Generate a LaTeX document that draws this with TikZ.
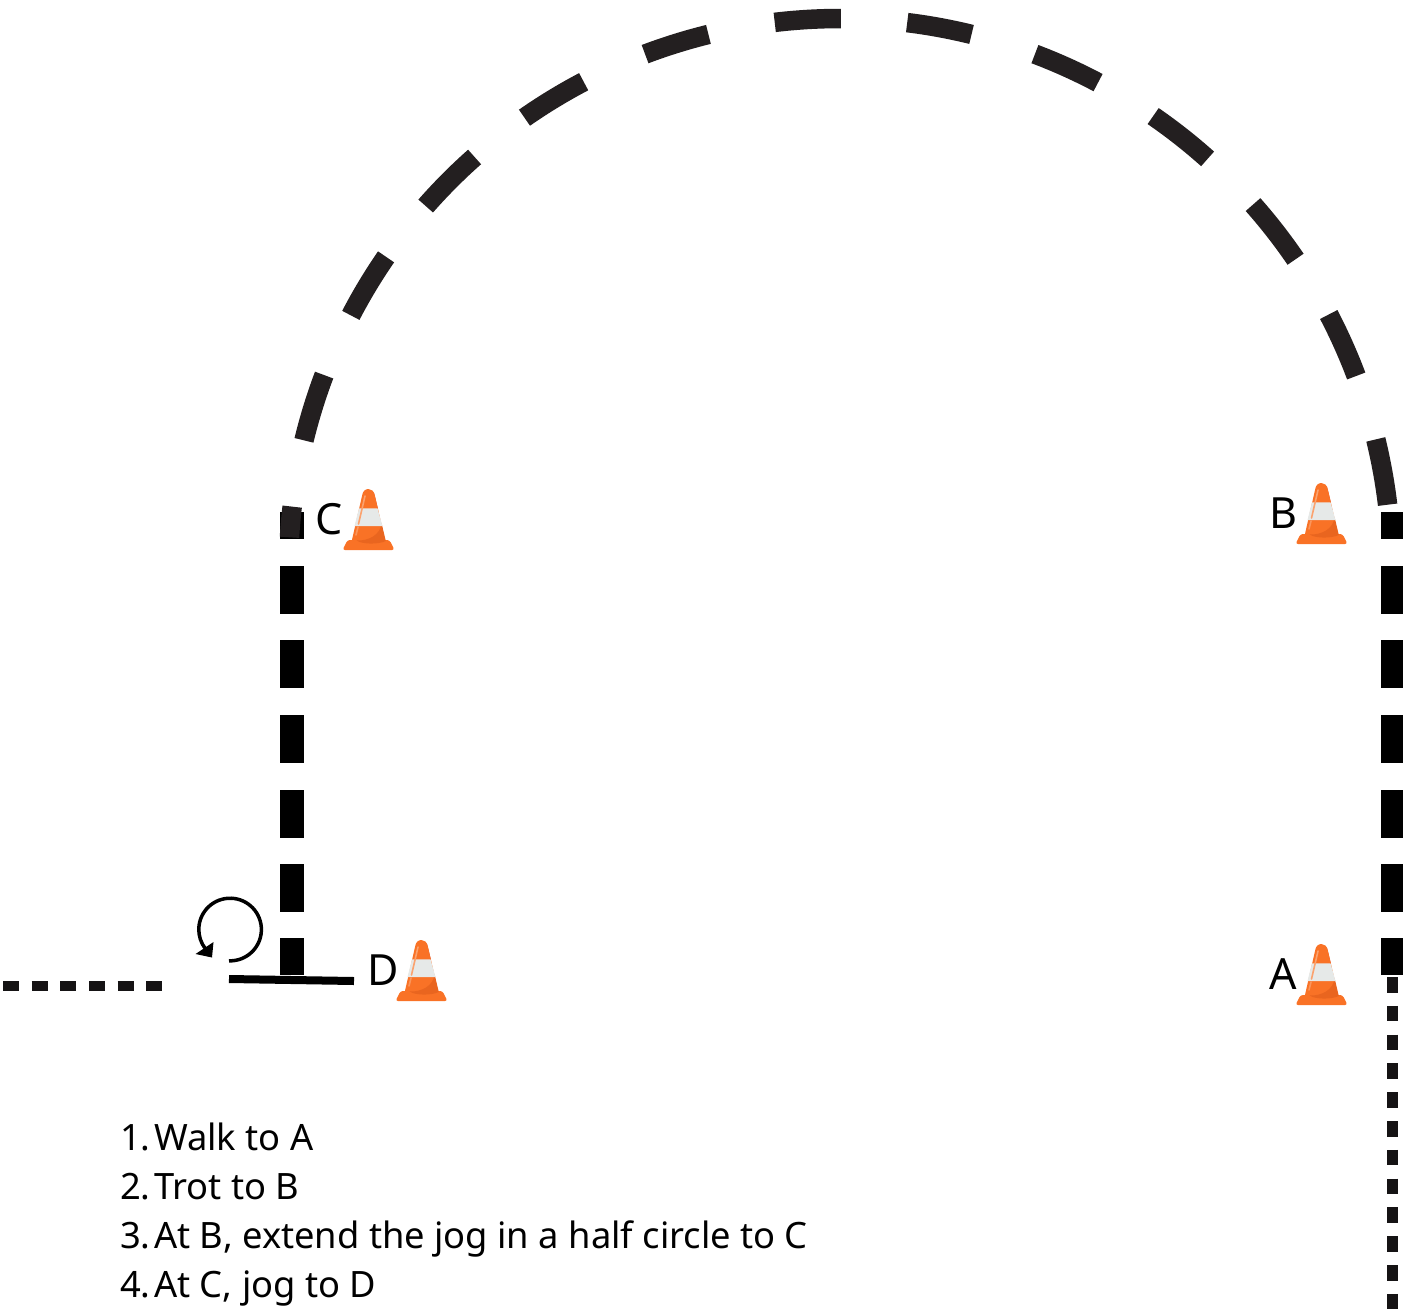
\documentclass[tikz,border=0pt]{standalone}
\usepackage{fontspec}
\setmainfont{Noto Sans}
\usetikzlibrary{calc}
\definecolor{ink}{HTML}{231F20}
\definecolor{inkdark}{HTML}{151314}
\definecolor{coneorange}{HTML}{F97226}
\definecolor{conedark}{HTML}{E9651F}
\definecolor{coneband}{HTML}{E6E9E8}
\definecolor{conered}{HTML}{D8412B}
\definecolor{conelight}{HTML}{FBA26E}
\tikzset{
  arcdash/.style={draw=ink,line width=19.5pt},
  bardash/.style={draw=black,line width=24pt},
  dotdash/.style={draw=inkdark,line width=11pt},
  dotdashh/.style={draw=inkdark,line width=10pt},
  conelabel/.style={font=\fontsize{43}{43}\selectfont,anchor=base west,inner sep=0pt,text=black},
  steptext/.style={font=\fontsize{36.3}{36.3}\selectfont,anchor=base west,inner sep=0pt,text=black},
  trafficcone/.pic={
    % base
    \fill[coneorange,rounded corners=2.5pt] (-21,-10) -- (21,-10) -- (26,0) -- (-26,0) -- cycle;
    % red sliver
    \fill[conered] (1,-60) -- (5.5,-57) -- (9.5,-41) -- (6,-41) -- cycle;
    % body
    \fill[coneorange] (-17,-8) -- (-6.5,-54) .. controls (-6,-59) and (-3,-61) .. (0,-61)
        .. controls (3,-61) and (5.5,-59) .. (6.5,-54) -- (17,-8) .. controls (10,-5) and (-10,-5) .. (-17,-8) -- cycle;
    % shade
    \fill[conedark] (17.3,-9) -- (13,-27) .. controls (12,-15) and (0,-9) .. (-12,-9.5)
        .. controls (-6,-5.5) and (10,-5.5) .. (17.3,-9) -- cycle;
    % band
    \fill[coneband] (-9.5,-41.7) -- (9,-41.7) -- (14,-24) -- (-14,-24) -- cycle;
    % highlight
    \draw[conelight,line width=1.6pt,line cap=round] (-3.5,-54) -- (-10,-26);
    \draw[conelight,line width=1.6pt,line cap=round,opacity=.75] (-10.5,-23) -- (-12.5,-15);
  }
}
\begin{document}
\begin{tikzpicture}[x=1pt,y=-1pt]
\useasboundingbox (0,0) rectangle (1403,1309);
\coordinate (arcC) at (840,570);
% vertical bars
\foreach \a/\b in {512/539,566/614,640/688,715/763,790/838,864/912,938/975}{
  \draw[bardash] (292,\a) -- (292,\b);
  \draw[bardash] (1393,\a) -- (1393,\b);
}
% half circle
\foreach \a/\b in {6.8/13.7,20.6/27.6,34.3/41.5,48.2/55.4,62.1/69.3,76.2/83.0,89.9/96.8,103.8/110.7,117.7/124.9,131.5/138.7,145.4/152.5,159.3/166.4,173.4/176.6}{
  \draw[arcdash] ($(arcC)+({551.5*cos(\a)},{-551.5*sin(\a)})$) arc[start angle=-\a,end angle=-\b,radius=551.5];
}
% dotted lines
\foreach \a in {977,1005.8,1034.6,1063.4,1092.2,1121,1149.8,1178.6,1207.4,1236.2,1265,1293.8}{
  \draw[dotdash] (1392.5,\a) -- (1392.5,{min(\a+15.5,1309)});
}
\foreach \a in {3,31.5,60,89,117.5,146}{
  \draw[dotdashh] (\a,986) -- ({\a+16},986);
}
% halt line and turn
\coordinate (haltL) at (229,979);
\coordinate (haltR) at (354,981);
\draw[draw=black,line width=8pt] (haltL) -- (haltR);
\coordinate (turnC) at (230,929.5);
\draw[black,line width=3.5pt] ($(turnC)+(-1,31.3)$) arc[start angle=92,end angle=-218,radius=31.3];
\fill[black] (213.5,942) -- (212,957.5) -- (195.5,954) -- cycle;
% cones
\pic at (1321.5,1005) {trafficcone};
\pic at (1321.5,544) {trafficcone};
\pic at (368.5,550) {trafficcone};
\pic at (421.5,1001) {trafficcone};
% labels
\node[conelabel] (la) at (1269,989) {A};
\node[conelabel] (lb) at (1269,528) {B};
\node[conelabel] (lc) at (315,534) {C};
\node[conelabel] (ld) at (367,985) {D};
% steps
\node[steptext] (s1) at (120,1150) {\makebox[34pt][l]{1.}Walk to A};
\node[steptext] (s2) at (120,1199) {\makebox[34pt][l]{2.}Trot to B};
\node[steptext] (s3) at (120,1248) {\makebox[34pt][l]{3.}At B, extend the jog in a half circle to C};
\node[steptext] (s4) at (120,1297) {\makebox[34pt][l]{4.}At C, jog to D};
\end{tikzpicture}
\end{document}
